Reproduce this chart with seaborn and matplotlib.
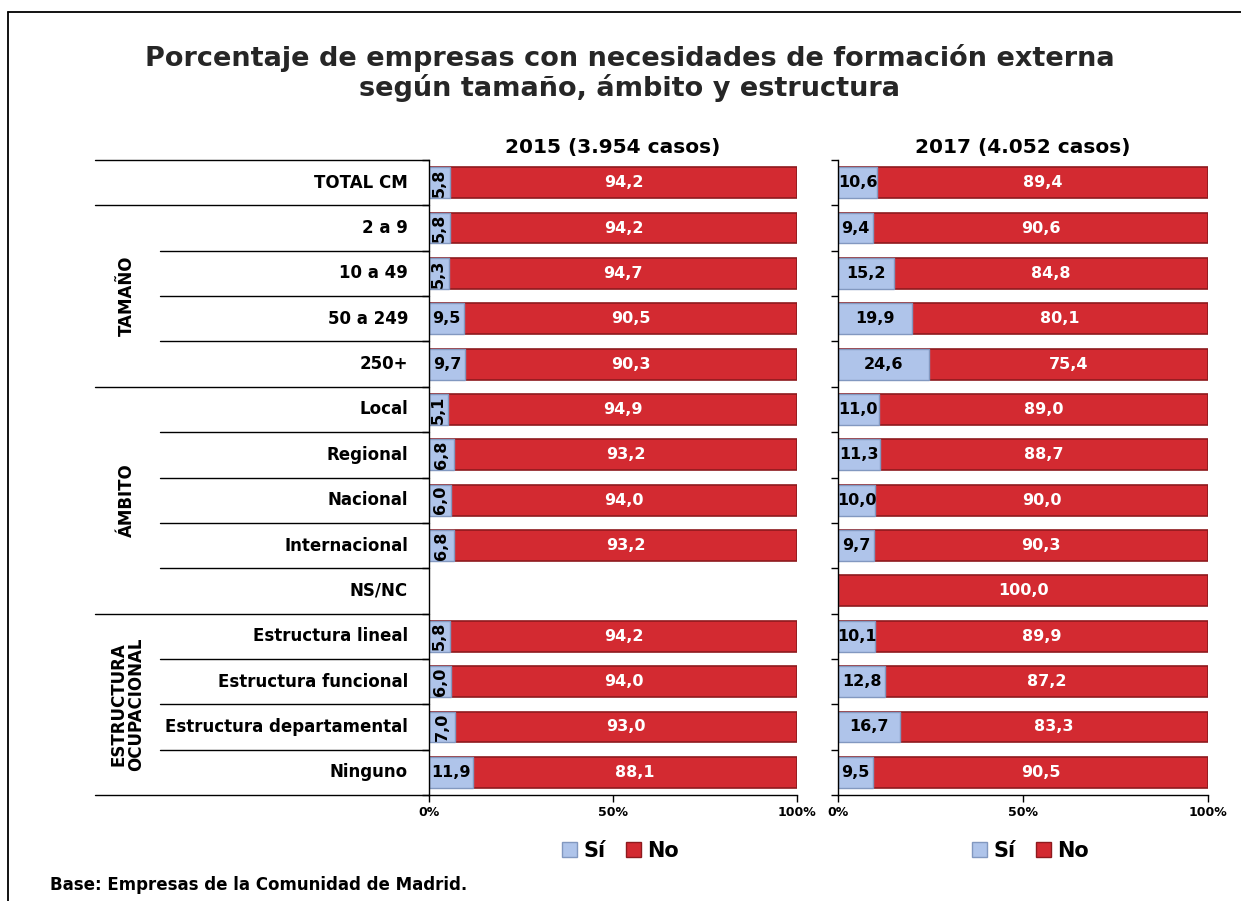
import numpy as np
import pandas as pd
import matplotlib
matplotlib.use("Agg")
import matplotlib.pyplot as plt
import matplotlib.transforms as mtrans
from matplotlib.patches import Patch
from matplotlib.lines import Line2D
import seaborn as sns

# ---------------- data ----------------
categories = ["TOTAL CM", "2 a 9", "10 a 49", "50 a 249", "250+",
              "Local", "Regional", "Nacional", "Internacional", "NS/NC",
              "Estructura lineal", "Estructura funcional",
              "Estructura departamental", "Ninguno"]
si_2015 = [5.8, 5.8, 5.3, 9.5, 9.7, 5.1, 6.8, 6.0, 6.8, np.nan, 5.8, 6.0, 7.0, 11.9]
no_2015 = [94.2, 94.2, 94.7, 90.5, 90.3, 94.9, 93.2, 94.0, 93.2, np.nan, 94.2, 94.0, 93.0, 88.1]
si_2017 = [10.6, 9.4, 15.2, 19.9, 24.6, 11.0, 11.3, 10.0, 9.7, 0.0, 10.1, 12.8, 16.7, 9.5]
no_2017 = [89.4, 90.6, 84.8, 80.1, 75.4, 89.0, 88.7, 90.0, 90.3, 100.0, 89.9, 87.2, 83.3, 90.5]
groups = [("TAMAÑO", 1, 4), ("ÁMBITO", 5, 9), ("ESTRUCTURA\nOCUPACIONAL", 10, 13)]
group_breaks = [0, 1, 5, 10]   # rows starting a new group (full-width line above)
panel_titles = ["2015 (3.954 casos)", "2017 (4.052 casos)"]
tick_labels = ["0%", "50%", "100%"]
title = "Porcentaje de empresas con necesidades de formación externa\nsegún tamaño, ámbito y estructura"
footnote = "Base: Empresas de la Comunidad de Madrid."

SI_COLOR = "#AFC4EA"
SI_EDGE = "#8298C0"
NO_COLOR = "#D32A31"
NO_EDGE = "#8E1A1E"

sns.set_theme(style="white")
plt.rcParams["font.family"] = ["DejaVu Sans"]
plt.rcParams["font.weight"] = "bold"
plt.rcParams["text.color"] = "black"
plt.rcParams["axes.labelcolor"] = "black"
plt.rcParams["xtick.color"] = "black"
plt.rcParams["ytick.color"] = "black"
plt.rcParams["axes.titlecolor"] = "black"

W, H = 1241, 901
fig = plt.figure(figsize=(W / 100, H / 100), dpi=100)

def fx(px):
    return px / W

def fy(py):
    return 1 - py / H

y_top, y_bot = 160, 795
axes_x = [(429, 797), (838, 1208)]
axs = []
for (x0, x1) in axes_x:
    ax = fig.add_axes([fx(x0), fy(y_bot), fx(x1) - fx(x0), fy(y_top) - fy(y_bot)])
    axs.append(ax)

datasets = [(si_2015, no_2015), (si_2017, no_2017)]
n = len(categories)

for ax, (si, no), ptitle in zip(axs, datasets, panel_titles):
    df = pd.DataFrame({"cat": categories, "si": si, "no": no})
    df["total"] = df["si"] + df["no"]
    sns.barplot(data=df, y="cat", x="total", orient="h", color=NO_COLOR,
                edgecolor=NO_EDGE, linewidth=1.2, width=0.68, saturation=1,
                ax=ax, order=categories)
    sns.barplot(data=df, y="cat", x="si", orient="h", color=SI_COLOR,
                edgecolor=SI_EDGE, linewidth=1.0, width=0.68, saturation=1,
                ax=ax, order=categories)
    ax.set_xlim(0, 100)
    ax.set_ylim(n - 0.5, -0.5)
    ax.set_xlabel("")
    ax.set_ylabel("")
    ax.set_yticks([])
    ax.set_yticks(np.arange(-0.5, n, 1.0), minor=True)
    ax.tick_params(axis="y", which="minor", length=5, width=1, direction="out",
                   left=True, color="black")
    ax.set_xticks([0, 50, 100])
    ax.set_xticklabels(tick_labels, fontsize=9, fontweight="bold", color="black")
    ax.tick_params(axis="x", which="major", length=5, width=1, direction="out",
                   bottom=True, color="black", pad=3)
    for s in ["top", "right"]:
        ax.spines[s].set_visible(False)
    for s in ["left", "bottom"]:
        ax.spines[s].set_color("black")
        ax.spines[s].set_linewidth(1.0)
    ax.set_title(ptitle, fontsize=14.5, fontweight="bold", pad=5, color="black")

    # value labels
    for i in range(n):
        s, v = si[i], no[i]
        if np.isnan(s):
            continue
        if v > 0:
            ax.text(s + v / 2, i, f"{v:.1f}".replace(".", ","), ha="center",
                    va="center", color="white", fontsize=11.5, fontweight="bold")
        if s > 0:
            rot = 90 if s < 9 else 0
            ax.text(s / 2, i, f"{s:.1f}".replace(".", ","), ha="center",
                    va="center", color="black", fontsize=11.5, fontweight="bold",
                    rotation=rot)

    leg_handles = [Patch(facecolor=SI_COLOR, edgecolor=SI_EDGE),
                   Patch(facecolor=NO_COLOR, edgecolor=NO_EDGE)]
    ax.legend(leg_handles, ["Sí", "No"], loc="center", ncol=2,
              bbox_to_anchor=(0.52, -0.088), frameon=False,
              handlelength=0.7, handleheight=0.7, handletextpad=0.3,
              columnspacing=1.0, labelcolor="black",
              prop={"size": 15, "weight": "bold"})

# left side category labels and table lines
ax0 = axs[0]
trans = mtrans.blended_transform_factory(fig.transFigure, ax0.transData)
for i, c in enumerate(categories):
    ax0.text(fx(408), i, c, transform=trans, ha="right", va="center",
             fontsize=12, fontweight="bold", color="black")
for b in range(n + 1):
    ystar = b - 0.5
    start = 95 if (b in group_breaks or b == n) else 160
    ax0.add_line(Line2D([fx(start), fx(429)], [ystar, ystar], transform=trans,
                        color="black", lw=1.0, clip_on=False))
for name, a, b in groups:
    yc = (a + b) / 2
    ax0.text(fx(127), yc, name, transform=trans, ha="center", va="center",
             rotation=90, fontsize=12, fontweight="bold", linespacing=1.0,
             color="black")

fig.text(0.5075, fy(73), title, ha="center", va="center", fontsize=19.5,
         fontweight="bold", color="#262626", linespacing=1.12)
fig.text(fx(50), fy(885), footnote, ha="left", va="center", fontsize=12,
         fontweight="bold", color="black")

# outer frame (top and left)
fig.add_artist(Line2D([fx(8), 1], [fy(12), fy(12)], transform=fig.transFigure,
                      color="black", lw=1.3))
fig.add_artist(Line2D([fx(8), fx(8)], [fy(12), 0], transform=fig.transFigure,
                      color="black", lw=1.3))

fig.savefig("out.png", dpi=100)
